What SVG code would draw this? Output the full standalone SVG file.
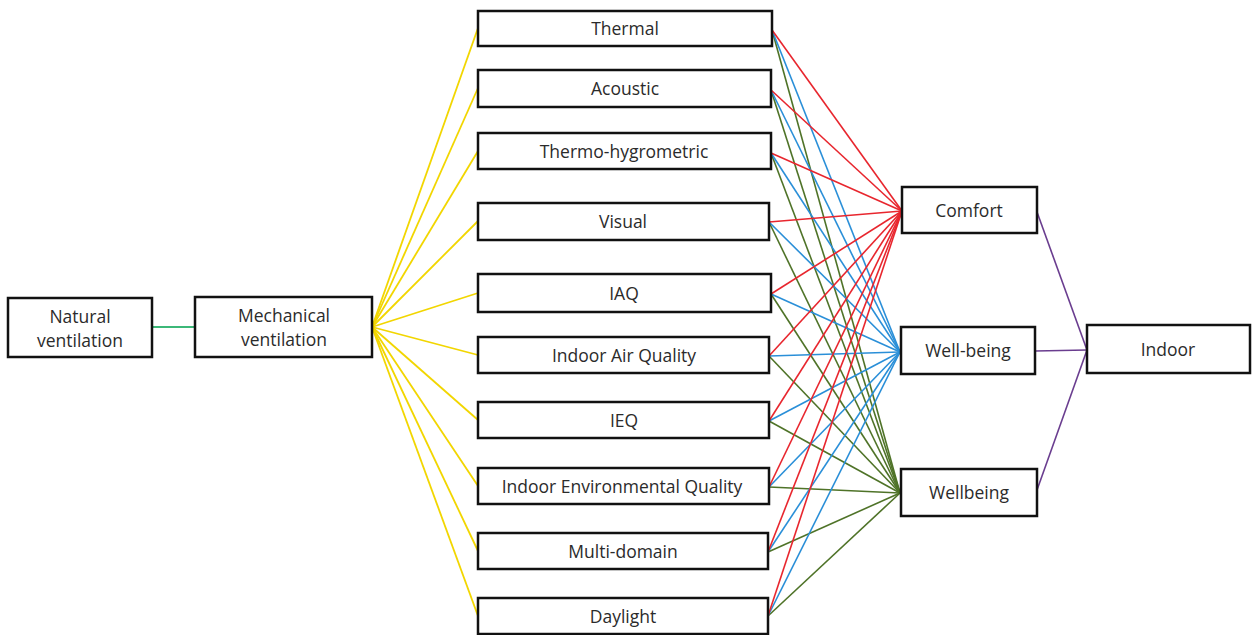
<svg xmlns="http://www.w3.org/2000/svg" width="1253" height="635" viewBox="0 0 1253 635">
<style>
.box{fill:#fff;stroke:#111;stroke-width:2.5}
.t{font-family:"Open Sans","Liberation Sans",Arial,sans-serif;font-size:17.5px;fill:#2b2b2b;text-anchor:middle;dominant-baseline:central}
.y{stroke:#f2d600;stroke-width:1.8;fill:none}
.r{stroke:#e8262e;stroke-width:1.6;fill:none}
.b{stroke:#2a8fd8;stroke-width:1.6;fill:none}
.g{stroke:#4f7328;stroke-width:1.6;fill:none}
.p{stroke:#6a3d8f;stroke-width:1.6;fill:none}
.gn{stroke:#3cb878;stroke-width:2;fill:none}
</style>
<rect width="1253" height="635" fill="#fff"/>
<g id="connectors">
<line class="gn" x1="152" y1="327" x2="195" y2="327"/>
<g>
<line class="y" x1="372" y1="327" x2="478" y2="28"/>
<line class="y" x1="372" y1="327" x2="478" y2="88"/>
<line class="y" x1="372" y1="327" x2="478" y2="151"/>
<line class="y" x1="372" y1="327" x2="478" y2="221"/>
<line class="y" x1="372" y1="327" x2="478" y2="293"/>
<line class="y" x1="372" y1="327" x2="478" y2="355"/>
<line class="y" x1="372" y1="327" x2="478" y2="420"/>
<line class="y" x1="372" y1="327" x2="478" y2="486"/>
<line class="y" x1="372" y1="327" x2="478" y2="551"/>
<line class="y" x1="372" y1="327" x2="478" y2="616"/>
</g>
<g>
<line class="g" x1="772" y1="30" x2="900" y2="493"/>
<line class="g" x1="771" y1="90" x2="900" y2="493"/>
<line class="g" x1="771" y1="153" x2="900" y2="493"/>
<line class="g" x1="769" y1="222" x2="900" y2="493"/>
<line class="g" x1="771" y1="294" x2="900" y2="493"/>
<line class="g" x1="769" y1="356" x2="900" y2="493"/>
<line class="g" x1="769" y1="421" x2="900" y2="493"/>
<line class="g" x1="769" y1="487" x2="900" y2="493"/>
<line class="g" x1="768" y1="552" x2="900" y2="493"/>
<line class="g" x1="768" y1="616" x2="900" y2="493"/>
</g>
<g>
<line class="b" x1="772" y1="30" x2="900" y2="352"/>
<line class="b" x1="771" y1="90" x2="900" y2="352"/>
<line class="b" x1="771" y1="153" x2="900" y2="352"/>
<line class="b" x1="769" y1="222" x2="900" y2="352"/>
<line class="b" x1="771" y1="294" x2="900" y2="352"/>
<line class="b" x1="769" y1="356" x2="900" y2="352"/>
<line class="b" x1="769" y1="421" x2="900" y2="352"/>
<line class="b" x1="769" y1="487" x2="900" y2="352"/>
<line class="b" x1="768" y1="552" x2="900" y2="352"/>
<line class="b" x1="768" y1="616" x2="900" y2="352"/>
</g>
<g>
<line class="r" x1="772" y1="30" x2="902" y2="211"/>
<line class="r" x1="771" y1="90" x2="902" y2="211"/>
<line class="r" x1="771" y1="153" x2="902" y2="211"/>
<line class="r" x1="769" y1="222" x2="902" y2="211"/>
<line class="r" x1="771" y1="294" x2="902" y2="211"/>
<line class="r" x1="769" y1="356" x2="902" y2="211"/>
<line class="r" x1="769" y1="421" x2="902" y2="211"/>
<line class="r" x1="769" y1="487" x2="902" y2="211"/>
<line class="r" x1="768" y1="552" x2="902" y2="211"/>
<line class="r" x1="768" y1="616" x2="902" y2="211"/>
</g>
<g>
<line class="p" x1="1037" y1="212" x2="1087" y2="350"/>
<line class="p" x1="1035" y1="351" x2="1087" y2="350"/>
<line class="p" x1="1037" y1="490" x2="1087" y2="350"/>
</g>
</g>
<g id="natural"><rect class="box" x="8" y="298" width="144" height="59"/><text class="t" x="80" y="316">Natural</text><text class="t" x="80" y="340">ventilation</text></g>
<g id="mechanical"><rect class="box" x="195" y="297" width="177" height="60"/><text class="t" x="284" y="315">Mechanical</text><text class="t" x="284" y="339">ventilation</text></g>
<g id="thermal"><rect class="box" x="478" y="11" width="294" height="35"/><text class="t" x="625" y="28">Thermal</text></g>
<g id="acoustic"><rect class="box" x="478" y="70" width="293" height="37"/><text class="t" x="625" y="88">Acoustic</text></g>
<g id="thermohygrometric"><rect class="box" x="478" y="133" width="293" height="36"/><text class="t" x="624" y="151">Thermo-hygrometric</text></g>
<g id="visual"><rect class="box" x="478" y="203" width="291" height="37"/><text class="t" x="623" y="221">Visual</text></g>
<g id="iaq"><rect class="box" x="478" y="274" width="293" height="38"/><text class="t" x="624" y="293">IAQ</text></g>
<g id="indoorairquality"><rect class="box" x="478" y="337" width="291" height="36"/><text class="t" x="624" y="355">Indoor Air Quality</text></g>
<g id="ieq"><rect class="box" x="478" y="402" width="291" height="36"/><text class="t" x="624" y="420">IEQ</text></g>
<g id="indoorenvironmentalquality"><rect class="box" x="478" y="468" width="291" height="36"/><text class="t" x="622" y="486">Indoor Environmental Quality</text></g>
<g id="multidomain"><rect class="box" x="478" y="533" width="290" height="36"/><text class="t" x="623" y="551">Multi-domain</text></g>
<g id="daylight"><rect class="box" x="478" y="598" width="290" height="36"/><text class="t" x="623" y="616">Daylight</text></g>
<g id="comfort"><rect class="box" x="902" y="187" width="135" height="46"/><text class="t" x="969" y="210">Comfort</text></g>
<g id="wellbeing1"><rect class="box" x="901" y="327" width="134" height="47"/><text class="t" x="968" y="350">Well-being</text></g>
<g id="wellbeing2"><rect class="box" x="901" y="469" width="136" height="47"/><text class="t" x="969" y="492">Wellbeing</text></g>
<g id="indoor"><rect class="box" x="1087" y="325" width="163" height="48"/><text class="t" x="1168" y="349">Indoor</text></g>
</svg>
